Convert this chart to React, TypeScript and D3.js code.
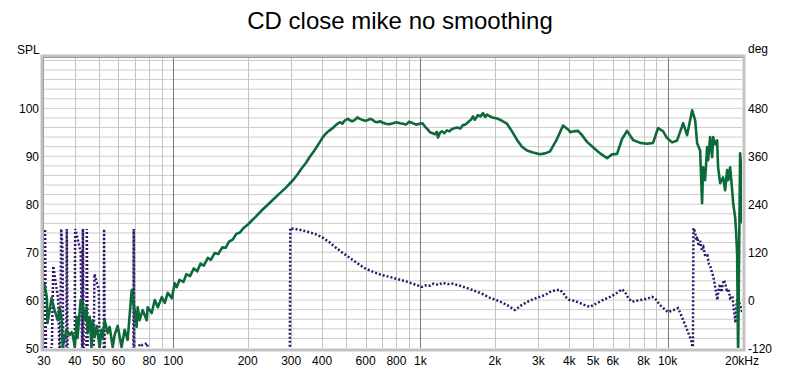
import React, { useEffect, useRef } from 'react';
import * as d3 from 'd3';

const title = 'CD close mike no smoothing';

const freqTicks = [30, 40, 50, 60, 80, 100, 200, 300, 400, 600, 800, 1000, 2000, 3000, 4000, 5000, 6000, 8000, 10000, 20000];
const freqTickLabels = ['30', '40', '50', '60', '80', '100', '200', '300', '400', '600', '800', '1k', '2k', '3k', '4k', '5k', '6k', '8k', '10k', '20kHz'];
const splTicks = [50, 60, 70, 80, 90, 100];
const degTicks = [-120, 0, 120, 240, 360, 480];

// SPL (dB), [Hz, dB]
const splLow = [
  [29.9, 61.5], [30.2, 63.1], [30.8, 60.6], [31.0, 55.2], [32.2, 60.4], [33.1, 57.9], [34.1, 55.8], [34.7, 58.3],
  [35.4, 55.8], [35.7, 50.2], [37.0, 53.8], [38.1, 52.7], [38.8, 53.3], [39.2, 52.7], [40.0, 50.2], [40.7, 56.5],
  [41.0, 52.1], [42.2, 60.0], [43.0, 59.4], [43.8, 55.8], [44.6, 58.5], [45.0, 53.1], [45.9, 56.5], [46.7, 50.2],
  [47.2, 55.8], [48.1, 52.3], [49.0, 54.6], [50.4, 50.2], [51.3, 53.8], [51.8, 52.1], [52.8, 55.8], [54.3, 53.1],
  [55.3, 54.4], [56.9, 50.2], [57.9, 52.7], [59.6, 54.6], [61.8, 50.2], [63.6, 53.8], [65.4, 51.7], [67.9, 62.1],
  [68.6, 60.0], [69.8, 57.9], [71.1, 54.4], [71.8, 58.5], [73.1, 55.8], [75.2, 57.9], [78.1, 55.8], [78.8, 58.5],
  [81.8, 57.3], [84.2, 60.0], [86.6, 58.5], [89.9, 60.6], [92.4, 59.4], [95.0, 61.5], [98.7, 60.4], [101.4, 63.5],
  [103.3, 62.7],
];
const splRise = [
  [106, 64.2], [110, 63.8], [113, 65.4], [117, 65.0], [121, 66.6], [125, 66.0], [129, 67.6], [133, 67.2],
  [138, 68.8], [142, 68.4], [147, 69.8], [152, 69.6], [158, 71.0], [163, 70.9], [168, 72.2], [174, 72.6],
  [180, 73.8], [186, 74.1], [193, 75.1], [200, 75.7], [208, 76.6], [215, 77.3], [223, 78.2], [230, 78.9],
  [246, 80.3], [265, 81.9], [285, 83.4], [305, 85.0], [318, 86.2], [331, 87.5], [344, 88.6], [357, 89.9],
  [370, 91.0], [381, 92.0], [392, 93.0], [403, 94.0], [412, 94.6], [422, 95.1], [432, 95.5], [442, 95.9],
  [457, 96.6], [472, 97.1], [483, 96.8], [495, 97.5], [509, 97.8], [518, 97.5], [530, 97.3], [543, 97.6],
  [556, 98.1], [569, 97.8], [582, 97.6], [596, 97.4], [610, 97.5], [625, 97.8], [640, 97.6], [655, 97.2],
  [670, 97.1], [685, 97.3], [705, 97.0], [725, 96.8], [750, 96.7], [774, 96.9], [800, 97.1], [826, 96.9],
  [850, 96.8], [874, 96.6], [900, 97.2], [932, 96.9], [960, 96.6], [995, 96.8],
];
const splHigh = [
  [1020, 96.9], [1043, 96.2], [1070, 95.6], [1093, 95.0], [1120, 94.8], [1145, 94.6], [1165, 95.1], [1178, 93.9],
  [1200, 94.9], [1222, 95.2], [1250, 94.8], [1280, 95.4], [1310, 95.2], [1341, 95.7], [1405, 96.0], [1450, 95.8],
  [1486, 96.5], [1520, 96.6], [1557, 97.1], [1600, 97.6], [1632, 98.3], [1660, 97.6], [1709, 98.6], [1750, 98.3],
  [1791, 99.0], [1830, 98.2], [1859, 98.7], [1900, 98.4], [1948, 98.1], [2000, 98.0], [2040, 97.9], [2138, 97.4],
  [2240, 96.8], [2347, 95.2], [2459, 93.4], [2576, 92.0], [2699, 91.2], [2854, 90.8], [3047, 90.4], [3192, 90.6],
  [3345, 91.0], [3537, 93.2], [3776, 96.4], [3956, 95.6], [4050, 95.0], [4145, 95.2], [4342, 95.3], [4507, 94.4],
  [4721, 93.0], [4993, 91.9], [5331, 90.6], [5690, 89.6], [5961, 90.4], [6245, 90.5], [6543, 93.6], [6855, 95.3],
  [7250, 93.4], [7740, 92.8], [8260, 92.6], [8736, 92.8], [9152, 95.9], [9590, 95.2], [9954, 93.8], [10430, 92.9],
  [10930, 93.3], [11560, 96.9], [11990, 94.4], [12570, 99.6], [12930, 97.5], [13170, 92.7], [13540, 91.2], [13790, 80.2],
  [13920, 87.7], [14180, 85.0], [14450, 91.9], [14590, 89.2], [14860, 94.0], [15140, 89.8], [15290, 94.0], [15570, 92.5],
  [15860, 93.3], [16010, 87.7], [16310, 84.4], [16770, 85.6], [17090, 82.9], [17410, 87.1], [17580, 85.0], [17910, 87.7],
  [18250, 82.9], [18420, 80.2], [18760, 77.3], [18940, 74.0], [19110, 69.8], [19290, 48.0], [19470, 69.8], [19650, 90.6],
  [19840, 87.7], [20020, 76.0],
];

// phase (deg), wraps at +/-180, [Hz, deg]
const phaseLow = [
  [29.9, -170], [30.3, 178], [30.6, -178], [31.5, -150], [32.3, -110], [32.7, 85], [33.5, 40], [34.2, 5],
  [34.8, -178], [35.2, 178], [35.6, 140], [36.0, -178], [36.9, -178], [37.1, 178], [37.4, -178], [39.9, -178],
  [40.1, 178], [40.8, 160], [41.5, 140], [42.2, 120], [42.9, -178], [43.1, 178], [43.5, -178], [44.5, -178],
  [44.7, 178], [45.1, -178], [47.6, -170], [48.0, 65], [49.0, 45], [50.0, 26], [50.5, -178], [52.3, -178],
  [52.5, 178], [52.9, -178], [69.0, -178], [69.2, 178], [69.5, -178], [72.5, -178], [73.0, -110], [75.0, -113],
  [78.5, -108], [79.5, -178], [296, -178],
];
const phaseMid = [
  [297.5, 180], [310, 178], [325, 176], [350, 171], [381, 164], [405, 155], [430, 144], [455, 131],
  [485, 118], [520, 105], [553, 93], [595, 80], [641, 71], [695, 63], [751, 58], [815, 52],
  [882, 46], [950, 39], [1014, 33], [1050, 37], [1092, 36], [1130, 41], [1180, 38], [1234, 43],
  [1290, 40], [1350, 41], [1445, 36], [1560, 29], [1692, 21], [1800, 14], [1906, 6], [2030, 0],
  [2155, -7], [2280, -15], [2408, -25], [2550, -14], [2694, -5], [2850, 2], [3042, 8], [3200, 13],
  [3336, 20], [3500, 24], [3660, 26], [3780, 18], [3900, 6], [4018, 0], [4200, -2], [4411, -7],
  [4600, -12], [4842, -17], [5100, -10], [5474, 0], [5848, 8], [6100, 14], [6543, 27], [6750, 18],
  [6950, 4], [7173, -4], [7740, 0], [8260, 3], [8650, 8], [8900, 4], [9300, -12], [10020, -30],
  [10500, -26], [11010, -20], [11300, -35], [11560, -50], [12100, -80], [12560, -107], [12650, -178],
];
const phaseHigh = [
  [12720, 180], [12930, 170], [13050, 150], [13180, 158], [13350, 135], [13560, 148], [13760, 125], [13960, 132],
  [14200, 110], [14490, 112], [14700, 90], [14900, 85], [15100, 70], [15330, 58], [15600, 30], [15900, 0],
  [16060, 25], [16300, 40], [16500, 20], [16670, 35], [16900, 50], [17140, 40], [17400, 20], [17630, 28],
  [17900, 5], [18300, 10], [18500, -20], [18830, -57], [19000, -10], [19190, 5], [19450, -5], [19750, -17],
  [20000, -30], [20100, -25],
];

const green = '#0c6a3a';
const purple = '#2e1768';
const font = '"Liberation Sans", Arial, sans-serif';

export default function App() {
  const ref = useRef<SVGSVGElement>(null);

  useEffect(() => {
    document.body.style.margin = '0';
    const svg = d3.select(ref.current);
    svg.selectAll('*').remove();

    const x = d3.scaleLog().domain([30, 20000]).range([44, 742]);
    const y = d3.scaleLinear().domain([50, 110.5]).range([348, 58]);
    const yDeg = d3.scaleLinear().domain([-120, 606]).range([348, 58]);

    svg.append('defs').append('clipPath').attr('id', 'plotclip')
      .append('rect').attr('x', 44).attr('y', 58).attr('width', 698).attr('height', 290);

    // grid
    const grid = svg.append('g');
    grid.selectAll('line.h').data(d3.range(52, 111, 2)).join('line')
      .attr('x1', 44).attr('x2', 742)
      .attr('y1', d => y(d)).attr('y2', d => y(d))
      .attr('stroke', '#cccccc').attr('stroke-width', 1);
    grid.selectAll('line.v').data(x.ticks().filter(t => t > 30 && t < 20000)).join('line')
      .attr('x1', d => Math.round(x(d)) + 0.5).attr('x2', d => Math.round(x(d)) + 0.5)
      .attr('y1', 58).attr('y2', 348)
      .attr('stroke', d => [100, 1000, 10000].includes(d) ? '#7a7a7a' : '#c4c4c4')
      .attr('stroke-width', 1);

    // phase
    const phaseLine = d3.line<number[]>().x(d => x(d[0])).y(d => yDeg(d[1]));
    svg.append('path')
      .attr('clip-path', 'url(#plotclip)')
      .attr('d', phaseLine([...phaseLow, ...phaseMid, ...phaseHigh]))
      .attr('fill', 'none').attr('stroke', purple).attr('stroke-width', 2.5)
      .attr('stroke-dasharray', '2 2');

    // spl
    const splLine = d3.line<number[]>().x(d => x(d[0])).y(d => y(d[1]));
    svg.append('path')
      .attr('clip-path', 'url(#plotclip)')
      .attr('d', splLine([...splLow, ...splRise, ...splHigh]))
      .attr('fill', 'none').attr('stroke', green).attr('stroke-width', 2.6)
      .attr('stroke-linejoin', 'round');

    // frame
    svg.append('rect').attr('x', 42).attr('y', 56).attr('width', 702).attr('height', 294)
      .attr('fill', 'none').attr('stroke', '#c2c2c2').attr('stroke-width', 3);
    svg.append('path').attr('d', 'M43.5,349V57.5H743')
      .attr('fill', 'none').attr('stroke', '#9c9c9c').attr('stroke-width', 1);

    // text
    const txt = svg.append('g').attr('font-family', font).attr('font-size', 12).attr('fill', '#000');
    txt.selectAll('text.l').data(splTicks).join('text')
      .attr('x', 39).attr('y', d => y(d) + 4.5).attr('text-anchor', 'end').text(d => d);
    txt.selectAll('text.r').data(degTicks).join('text')
      .attr('x', 748).attr('y', d => yDeg(d) + 4.5).attr('text-anchor', 'start').text(d => d);
    txt.selectAll('text.b').data(freqTicks).join('text')
      .attr('x', d => x(d)).attr('y', 365).attr('text-anchor', 'middle')
      .text((d, i) => freqTickLabels[i]);
    txt.append('text').attr('x', 17).attr('y', 54).text('SPL');
    txt.append('text').attr('x', 748).attr('y', 53).text('deg');

    svg.append('text').attr('x', 400).attr('y', 29).attr('text-anchor', 'middle')
      .attr('font-family', font).attr('font-size', 24).attr('fill', '#000').text(title);
  }, []);

  return <svg ref={ref} width={800} height={373} style={{ display: 'block', background: '#fff' }} />;
}
